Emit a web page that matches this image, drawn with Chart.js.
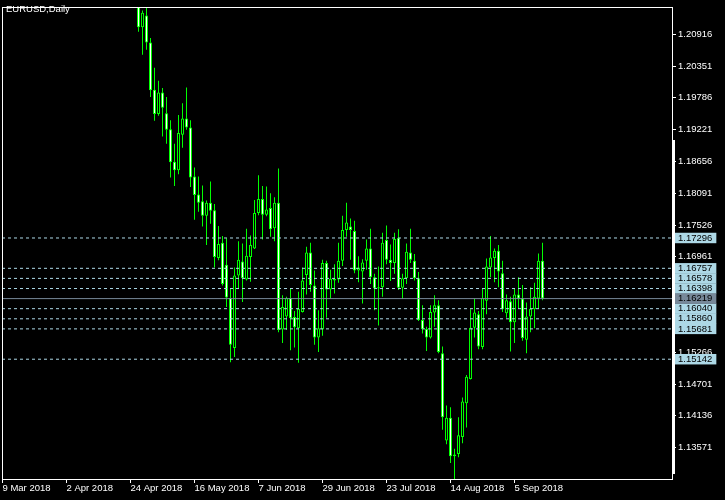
<!DOCTYPE html>
<html><head><meta charset="utf-8">
<script src="https://cdn.jsdelivr.net/npm/chart.js@4.4.1/dist/chart.umd.min.js"></script>
<style>html,body{margin:0;padding:0;background:#000;overflow:hidden}canvas{display:block}</style>
</head><body>
<canvas id="c" width="725" height="500"></canvas>
<script>
const symbolTitle = 'EURUSD,Daily';
// trading-day number of the first visible candle, counted from 9 Mar 2018 (= 0)
const firstBar = 34;
const opens = [
 1.2160,1.2104,1.2125,1.2077,1.1993,1.1950,1.1988,1.1951,1.1923,1.1865,
 1.1850,1.1913,1.1942,1.1926,1.1839,1.1807,1.1795,1.1769,1.1792,1.1779,
 1.1694,1.1721,1.1682,1.1623,1.1534,1.1663,1.1688,1.1656,1.1696,1.1711,
 1.1774,1.1799,1.1771,1.1783,1.1747,1.1792,1.1567,1.1590,1.1623,1.1589,
 1.1569,1.1598,1.1664,1.1704,1.1645,1.1553,1.1567,1.1685,1.1638,1.1657,
 1.1656,1.1689,1.1744,1.1750,1.1742,1.1672,1.1670,1.1689,1.1711,1.1660,
 1.1640,1.1642,1.1726,1.1691,1.1685,1.1730,1.1641,1.1658,1.1704,1.1689,
 1.1658,1.1584,1.1568,1.1553,1.1597,1.1610,1.1525,1.1370,1.1410,1.1342,
 1.1346,1.1376,1.1436,1.1479,1.1570,1.1594,1.1536,1.1618,1.1677,1.1694,
 1.1707,1.1667,1.1596,1.1617,1.1580,1.1629,1.1622,1.1549,1.1590,1.1603,
 1.1622,1.1689];
const highs = [
 1.2171,1.2134,1.2142,1.2085,1.2032,1.2009,1.1996,1.1980,1.1939,1.1897,
 1.1948,1.1969,1.1997,1.1939,1.1855,1.1839,1.1823,1.1796,1.1830,1.1790,
 1.1751,1.1733,1.1729,1.1639,1.1677,1.1724,1.1720,1.1746,1.1734,1.1797,
 1.1841,1.1822,1.1821,1.1809,1.1802,1.1853,1.1628,1.1625,1.1639,1.1600,
 1.1634,1.1677,1.1714,1.1721,1.1672,1.1601,1.1691,1.1689,1.1673,1.1683,
 1.1721,1.1769,1.1792,1.1764,1.1760,1.1697,1.1692,1.1727,1.1746,1.1666,
 1.1679,1.1739,1.1752,1.1718,1.1739,1.1745,1.1666,1.1720,1.1746,1.1701,
 1.1669,1.1610,1.1572,1.1610,1.1628,1.1619,1.1537,1.1432,1.1429,1.1355,
 1.1411,1.1446,1.1486,1.1603,1.1622,1.1600,1.1639,1.1693,1.1733,1.1711,
 1.1717,1.1689,1.1629,1.1625,1.1639,1.1660,1.1646,1.1615,1.1642,1.1650,
 1.1702,1.1721];
const lows = [
 1.2096,1.2055,1.2064,1.1980,1.1938,1.1947,1.1910,1.1897,1.1837,1.1822,
 1.1843,1.1890,1.1922,1.1820,1.1762,1.1776,1.1750,1.1717,1.1755,1.1677,
 1.1690,1.1645,1.1607,1.1509,1.1518,1.1639,1.1616,1.1654,1.1652,1.1710,
 1.1770,1.1727,1.1768,1.1732,1.1724,1.1562,1.1543,1.1566,1.1530,1.1535,
 1.1508,1.1597,1.1629,1.1634,1.1540,1.1527,1.1556,1.1588,1.1621,1.1631,
 1.1650,1.1680,1.1732,1.1691,1.1667,1.1651,1.1613,1.1673,1.1648,1.1601,
 1.1574,1.1625,1.1683,1.1653,1.1666,1.1637,1.1621,1.1648,1.1685,1.1654,
 1.1582,1.1560,1.1529,1.1551,1.1572,1.1525,1.1389,1.1363,1.1330,1.1301,
 1.1340,1.1365,1.1393,1.1478,1.1553,1.1532,1.1532,1.1594,1.1660,1.1651,
 1.1642,1.1598,1.1588,1.1528,1.1543,1.1604,1.1547,1.1525,1.1562,1.1569,
 1.1604,1.1619];
const closes = [
 1.2104,1.2130,1.2077,1.1992,1.1950,1.1988,1.1961,1.1922,1.1864,1.1850,
 1.1916,1.1942,1.1926,1.1837,1.1806,1.1792,1.1769,1.1792,1.1778,1.1696,
 1.1719,1.1648,1.1624,1.1540,1.1663,1.1691,1.1658,1.1698,1.1717,1.1774,
 1.1799,1.1771,1.1780,1.1745,1.1792,1.1566,1.1607,1.1623,1.1587,1.1571,
 1.1604,1.1654,1.1704,1.1646,1.1553,1.1569,1.1685,1.1638,1.1657,1.1654,
 1.1689,1.1744,1.1757,1.1744,1.1672,1.1677,1.1686,1.1711,1.1660,1.1640,
 1.1642,1.1721,1.1691,1.1685,1.1728,1.1641,1.1658,1.1705,1.1691,1.1658,
 1.1584,1.1568,1.1553,1.1598,1.1610,1.1527,1.1411,1.1410,1.1342,1.1345,
 1.1379,1.1439,1.1483,1.1570,1.1597,1.1537,1.1623,1.1679,1.1695,1.1707,
 1.1670,1.1603,1.1619,1.1580,1.1629,1.1622,1.1552,1.1590,1.1604,1.1625,
 1.1689,1.16219];
const dateTickBars = [0,16,32,48,64,80,96,112,128];
const dateTickLabels = ['9 Mar 2018','2 Apr 2018','24 Apr 2018','16 May 2018','7 Jun 2018','29 Jun 2018','23 Jul 2018','14 Aug 2018','5 Sep 2018'];
const priceTicks = [1.20916,1.20351,1.19786,1.19221,1.18656,1.18091,1.17526,1.16961,1.16396,1.15831,1.15266,1.14701,1.14136,1.13571];
const levelPrices = [1.17296,1.16757,1.16578,1.16398,1.16040,1.15860,1.15681,1.15142];
const lastPrice = 1.16219;
const xMin = -0.125, xMax = 167.375;
const yMin = 1.12996, yMax = 1.21396;

const FONT = 'Liberation Sans';
const bars = opens.map((_, i) => firstBar + i);
const bodyData = bars.map((b, i) => ({x: b, y: [opens[i], closes[i]]}));
const wickData = bars.map((b, i) => ({x: b, y: [lows[i], highs[i]]}));
const yTickValues = priceTicks.concat(levelPrices, [lastPrice]);
const nNormal = priceTicks.length;

const levelSets = levelPrices.map(p => ({
  type: 'line', data: [{x: xMin, y: p}, {x: xMax, y: p}],
  borderColor: '#add8e6', borderWidth: 1, borderDash: [3, 3],
  pointRadius: 0, order: 0, clip: 0
}));
levelSets.push({
  type: 'line', data: [{x: xMin, y: lastPrice}, {x: xMax, y: lastPrice}],
  borderColor: '#778899', borderWidth: 1, pointRadius: 0, order: 0, clip: 0
});

const chromePlugin = {
  id: 'chrome',
  beforeDraw(chart) {
    const c = chart.ctx;
    c.save(); c.fillStyle = '#000'; c.fillRect(0, 0, chart.width, chart.height); c.restore();
  },
  afterDraw(chart) {
    const c = chart.ctx, a = chart.chartArea;
    c.save();
    c.strokeStyle = '#fff'; c.lineWidth = 1;
    const l = Math.floor(a.left), t = Math.floor(a.top), r = Math.floor(a.right), b = Math.floor(a.bottom);
    c.strokeRect(l + 0.5, t + 0.5, r - l, b - 1 - t);
    c.fillStyle = '#fff';
    c.fillRect(r, 140, 3, 334);
    c.font = '9.5px "' + FONT + '"';
    c.textBaseline = 'middle'; c.textAlign = 'left';
    c.fillText(symbolTitle, 6, 9.5);
    c.restore();
  }
};

new Chart(document.getElementById('c'), {
  type: 'bar',
  data: {
    datasets: [
      ...levelSets,
      { type: 'bar', data: bodyData, grouped: false, barThickness: 3, inflateAmount: 0,
        backgroundColor: ctx => (closes[ctx.dataIndex] < opens[ctx.dataIndex] ? '#ffffff' : '#000000'),
        borderColor: '#00ff00', borderWidth: 1, borderSkipped: false, minBarLength: 1, order: 1, clip: 0 },
      { type: 'bar', data: wickData, grouped: false, barThickness: 1, inflateAmount: 0,
        backgroundColor: '#00ff00', borderWidth: 0, order: 2, clip: 0 }
    ]
  },
  options: {
    responsive: false, animation: false, devicePixelRatio: 1,
    layout: { padding: { left: 2, top: 2, right: 0, bottom: 0 } },
    plugins: { legend: { display: false }, tooltip: { enabled: false }, title: { display: false } },
    scales: {
      x: {
        type: 'linear', min: xMin, max: xMax, offset: false,
        grid: { drawOnChartArea: false, drawTicks: true, tickLength: 3, tickColor: '#fff', offset: false },
        border: { display: false },
        afterBuildTicks: a => { a.ticks = dateTickBars.map(v => ({value: v})); },
        afterFit: a => { a.height = 20; },
        ticks: { autoSkip: false, maxRotation: 0, minRotation: 0, align: 'start', padding: 0,
          color: '#fff', font: { family: FONT, size: 9.5 },
          callback: (v, i) => dateTickLabels[i] }
      },
      y: {
        type: 'linear', position: 'right', min: yMin, max: yMax,
        grid: { drawOnChartArea: false, drawTicks: true, tickLength: 4,
          tickColor: ctx => (ctx.index < nNormal ? '#fff' : 'rgba(0,0,0,0)') },
        border: { display: false },
        afterBuildTicks: a => { a.ticks = yTickValues.map(v => ({value: v})); },
        afterFit: a => { a.width = 53; },
        ticks: { autoSkip: false, padding: 2,
          font: { family: FONT, size: 9.5, lineHeight: 1.1 },
          color: ctx => (ctx.index < nNormal ? '#fff' : '#000'),
          showLabelBackdrop: ctx => ctx.index >= nNormal,
          backdropColor: ctx => (ctx.index === yTickValues.length - 1 ? '#778899' : '#add8e6'),
          backdropPadding: { left: 3, right: 4, top: 0, bottom: 0 },
          callback: (v, i) => yTickValues[i].toFixed(5) }
      }
    }
  },
  plugins: [chromePlugin]
});
</script>
</body></html>
